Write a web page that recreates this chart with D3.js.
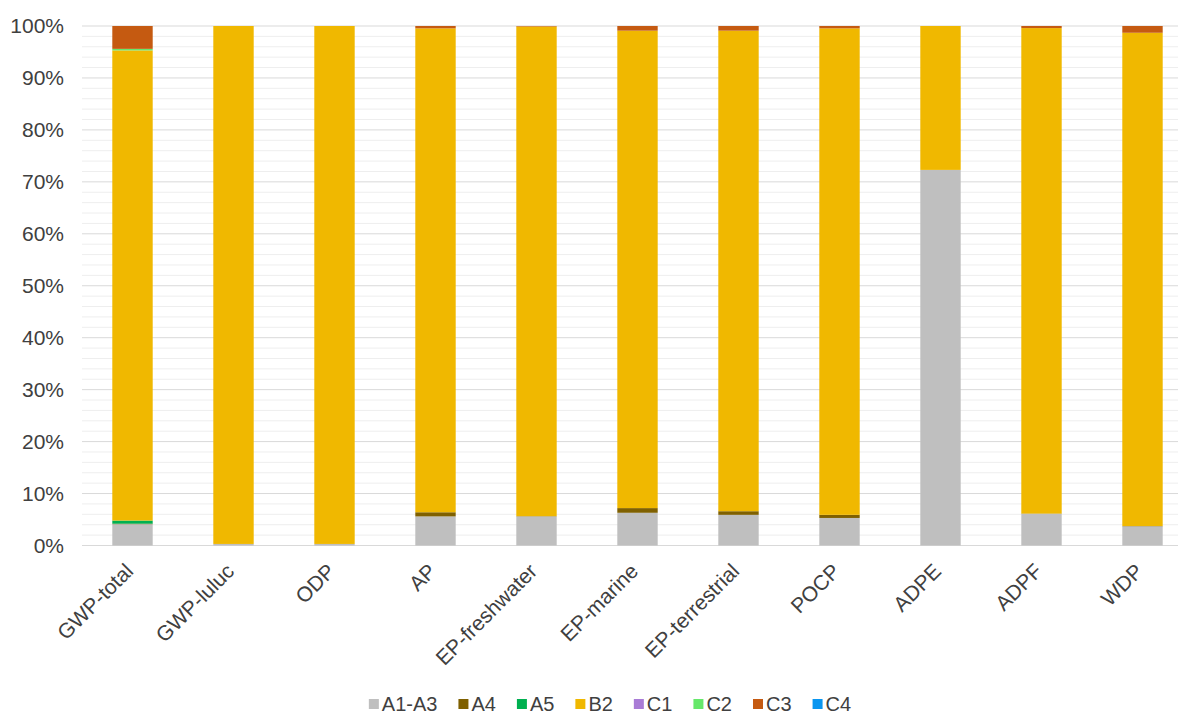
<!DOCTYPE html>
<html>
<head>
<meta charset="utf-8">
<script src="https://cdn.jsdelivr.net/npm/d3@7"></script>
<style>
  body { margin: 0; background: #fff; }
  text { font-family: "Liberation Sans", Arial, sans-serif; fill: #404040; }
</style>
</head>
<body>
<div id="chart"></div>
<script>
// categories and per-stage shares (%)
var categories = ["GWP-total", "GWP-luluc", "ODP", "AP", "EP-freshwater", "EP-marine",
                  "EP-terrestrial", "POCP", "ADPE", "ADPF", "WDP"];
var A1A3 = [4.1, 0.3, 0.3, 5.6, 5.6, 6.3, 5.9, 5.3, 72.3, 6.1, 3.7];
var A4   = [0.1, 0, 0, 0.8, 0.05, 0.9, 0.7, 0.6, 0, 0.05, 0.05];
var A5   = [0.6, 0, 0, 0, 0, 0, 0, 0, 0, 0, 0];
var B2   = [90.5, 99.7, 99.7, 93.15, 94.25, 91.9, 92.5, 93.65, 27.7, 93.45, 94.95];
var C1   = [0, 0, 0, 0, 0, 0, 0, 0, 0, 0, 0];
var C2   = [0.3, 0, 0, 0, 0, 0, 0, 0, 0, 0, 0];
var C3   = [4.4, 0, 0, 0.45, 0.1, 0.9, 0.9, 0.45, 0, 0.4, 1.3];
var C4   = [0, 0, 0, 0, 0, 0, 0, 0, 0, 0, 0];

var seriesNames = ["A1-A3", "A4", "A5", "B2", "C1", "C2", "C3", "C4"];
var seriesValues = [A1A3, A4, A5, B2, C1, C2, C3, C4];
var colors = ["#bfbfbf", "#7f6000", "#00b050", "#f0b800", "#a97cd6", "#66e86a", "#c55a11", "#0a96f0"];

var width = 1178, height = 715;

var rows = categories.map(function(c, i) {
    var r = { cat: c };
    seriesNames.forEach(function(s, j) { r[s] = seriesValues[j][i]; });
    return r;
});

var stack = d3.stack().keys(seriesNames);
var layers = stack(rows);

var x = d3.scaleBand()
    .domain(categories)
    .range([82, 1193])
    .paddingInner(0.6)
    .paddingOuter(0.3);

var y = d3.scaleLinear()
    .domain([0, 100])
    .range([545.5, 26]);

var svg = d3.select("#chart").append("svg")
    .attr("width", width)
    .attr("height", height);

// minor gridlines every 2%
svg.append("g").selectAll("line")
    .data(d3.range(2, 100, 2).filter(function(d) { return d % 10 !== 0; }))
    .enter().append("line")
    .attr("x1", 82).attr("x2", width)
    .attr("y1", function(d) { return y(d); })
    .attr("y2", function(d) { return y(d); })
    .attr("stroke", "#eeeeee")
    .attr("stroke-width", 1);

// major gridlines every 10%
svg.append("g").selectAll("line")
    .data(d3.range(0, 101, 10))
    .enter().append("line")
    .attr("x1", 82).attr("x2", width)
    .attr("y1", function(d) { return y(d); })
    .attr("y2", function(d) { return y(d); })
    .attr("stroke", "#d9d9d9")
    .attr("stroke-width", 1);

// bars
svg.append("g").selectAll("g")
    .data(layers)
    .enter().append("g")
    .attr("fill", function(d, i) { return colors[i]; })
    .selectAll("rect")
    .data(function(d) { return d; })
    .enter().append("rect")
    .attr("x", function(d) { return x(d.data.cat); })
    .attr("width", x.bandwidth())
    .attr("y", function(d) { return y(d[1]); })
    .attr("height", function(d) { return Math.max(0, y(d[0]) - y(d[1])); });

// y axis labels
var yAxis = d3.axisLeft(y)
    .tickValues(d3.range(0, 101, 10))
    .tickFormat(function(d) { return d + "%"; })
    .tickSize(0)
    .tickPadding(0);

svg.append("g")
    .attr("transform", "translate(64,0)")
    .call(yAxis)
    .call(function(g) { g.select(".domain").remove(); })
    .selectAll("text")
    .style("font-size", "21px")
    .style("font-family", "'Liberation Sans', Arial, sans-serif")
    .attr("fill", "#404040");

// x axis labels
var xAxis = d3.axisBottom(x).tickSize(0).tickPadding(0);
svg.append("g")
    .attr("transform", "translate(0,545.5)")
    .call(xAxis)
    .call(function(g) { g.select(".domain").remove(); })
    .selectAll("text")
    .style("font-size", "21px")
    .style("font-family", "'Liberation Sans', Arial, sans-serif")
    .attr("fill", "#404040")
    .attr("text-anchor", "end")
    .attr("dy", null)
    .attr("y", 0)
    .attr("transform", "translate(2,27) rotate(-45)");

// legend
var legend = svg.append("g").attr("transform", "translate(0,704)");
var items = legend.selectAll("g")
    .data(seriesNames)
    .enter().append("g");
items.append("rect")
    .attr("width", 10).attr("height", 10)
    .attr("y", -5)
    .attr("fill", function(d, i) { return colors[i]; });
items.append("text")
    .attr("x", 13)
    .attr("dy", "0.35em")
    .style("font-size", "20px")
    .text(function(d) { return d; });

var pos = 0, offsets = [];
items.each(function() {
    offsets.push(pos);
    pos += 13 + this.querySelector("text").getComputedTextLength() + 21;
});
var total = pos - 21;
var start = 610 - total / 2;
items.attr("transform", function(d, i) { return "translate(" + (start + offsets[i]) + ",0)"; });
</script>
</body>
</html>
